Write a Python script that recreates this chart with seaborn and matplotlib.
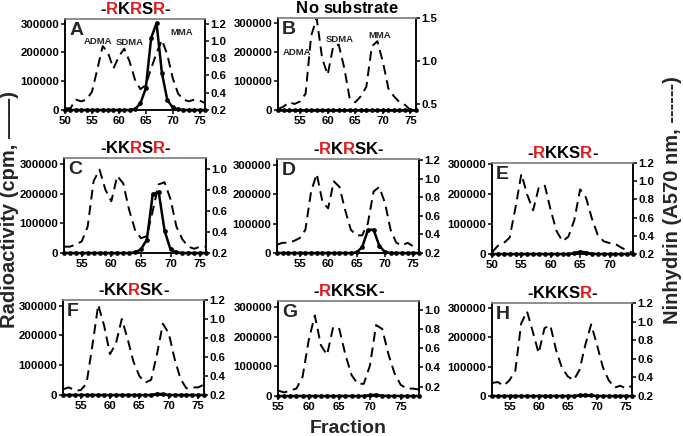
import matplotlib
matplotlib.use("Agg")
import matplotlib.pyplot as plt
import seaborn as sns
from matplotlib.offsetbox import TextArea, HPacker, AnchoredOffsetbox
from matplotlib.ticker import FormatStrFormatter, FixedLocator

sns.set_style("ticks")
plt.rcParams['font.family'] = ['Liberation Sans', 'DejaVu Sans']
plt.rcParams['font.weight'] = 'bold'

# fraction numbers per panel
frac_A = list(range(50, 77))
frac_B = list(range(51, 77))
frac_C = list(range(52, 77))
frac_D = list(range(51, 77))
frac_E = list(range(50, 75))
frac_F = list(range(52, 77))
frac_G = list(range(55, 79))
frac_H = list(range(52, 77))

# radioactivity (cpm), solid line
cpm_A = [0, 0, 0, 0, 0, 0, 0, 0, 0, 0, 0, 0, 0, 3000, 23000, 75000, 250000, 302000,
         128000, 35000, 9000, 2000, 0, 0, 0, 0, 0]
cpm_B = [0, 0, 0, 0, 0, 0, 0, 0, 0, 0, 0, 0, 0, 0, 0, 0, 0, 0, 0, 0, 0, 0, 0, 0, 0, 0]
cpm_C = [0, 0, 0, 0, 0, 0, 0, 0, 0, 0, 0, 0, 2000, 12000, 45000, 198000, 206000, 75000,
         12000, 2000, 0, 0, 0, 0, 0]
cpm_D = [0, 0, 0, 0, 0, 0, 0, 0, 0, 0, 0, 0, 0, 0, 2000, 20000, 78000, 80000, 25000,
         3000, 0, 0, 0, 0, 0, 0]
cpm_E = [0, 0, 0, 0, 0, 0, 0, 0, 0, 0, 0, 0, 0, 0, 3000, 8000, 5000, 1000, 0, 0, 0, 0,
         0, 0, 0]
cpm_F = [0, 0, 0, 0, 0, 0, 0, 0, 0, 0, 0, 0, 0, 0, 0, 0, 4000, 3000, 0, 0, 0, 0, 0, 0, 0]
cpm_G = [0, 0, 0, 0, 0, 0, 0, 0, 0, 0, 0, 0, 0, 0, 0, 3000, 4000, 1000, 0, 0, 0, 0, 0, 0]
cpm_H = [0, 0, 0, 0, 0, 0, 0, 0, 0, 0, 0, 0, 0, 0, 0, 2000, 4000, 2000, 0, 0, 0, 0, 0, 0, 0]

# ninhydrin (A570), dashed line
nin_A = [0.22, 0.22, 0.32, 0.30, 0.32, 0.41, 0.67, 0.94, 0.86, 0.68, 0.82, 0.91, 0.76, 0.55,
         0.44, 0.49, 0.68, 0.86, 1.01, 0.84, 0.57, 0.39, 0.32, 0.30, 0.32, 0.31, 0.28]
nin_B = [0.44, 0.47, 0.52, 0.50, 0.53, 0.62, 1.29, 1.50, 1.03, 0.84, 1.17, 1.19, 0.92, 0.56,
         0.52, 0.59, 0.70, 1.17, 1.23, 0.99, 0.68, 0.59, 0.52, 0.49, 0.43, 0.41]
nin_C = [0.26, 0.26, 0.28, 0.31, 0.45, 0.88, 0.99, 0.80, 0.69, 0.93, 0.86, 0.61, 0.42, 0.34,
         0.36, 0.60, 0.85, 0.87, 0.71, 0.45, 0.33, 0.26, 0.24, 0.26, 0.26]
nin_D = [0.29, 0.31, 0.31, 0.33, 0.36, 0.45, 0.86, 1.05, 0.75, 0.68, 0.97, 0.91, 0.66, 0.45,
         0.39, 0.39, 0.52, 0.86, 0.91, 0.74, 0.45, 0.31, 0.28, 0.31, 0.27, 0.24]
nin_E = [0.22, 0.29, 0.32, 0.38, 0.71, 1.08, 0.85, 0.68, 0.94, 0.95, 0.68, 0.45, 0.34, 0.39,
         0.57, 0.91, 0.82, 0.59, 0.41, 0.34, 0.32, 0.31, 0.27, 0.24, 0.21]
nin_F = [0.26, 0.28, 0.25, 0.25, 0.32, 0.72, 1.15, 0.93, 0.63, 0.74, 1.00, 0.79, 0.55, 0.40,
         0.33, 0.36, 0.63, 0.95, 0.85, 0.58, 0.37, 0.27, 0.28, 0.28, 0.31]
nin_G = [0.16, 0.14, 0.16, 0.18, 0.30, 0.68, 0.94, 0.63, 0.53, 0.82, 0.80, 0.53, 0.32, 0.23,
         0.23, 0.42, 0.84, 0.80, 0.54, 0.34, 0.22, 0.18, 0.18, 0.17]
nin_H = [0.34, 0.35, 0.31, 0.37, 0.47, 0.98, 1.11, 0.89, 0.66, 0.93, 0.96, 0.69, 0.50, 0.41,
         0.37, 0.48, 0.75, 0.97, 0.75, 0.51, 0.37, 0.29, 0.31, 0.28, 0.31]

titles = ['-RKRSR-', 'No substrate', '-KKRSR-', '-RKRSK-', '-RKKSR-', '-KKRSK-', '-RKKSK-', '-KKKSR-']
letters = ['A', 'B', 'C', 'D', 'E', 'F', 'G', 'H']
cpm_ticks = [0, 100000, 200000, 300000]
peak_names = ['ADMA', 'SDMA', 'MMA']

W, H = 683, 436
fig = plt.figure(figsize=(W / 100, H / 100), dpi=100)

# layout: box in pixels (left, top, right, bottom), axis limits, right-axis ticks
panels = [
    dict(x=frac_A, cpm=cpm_A, nin=nin_A, box=(65, 19, 205, 110), xlim=(50, 76),
         xt=[50, 55, 60, 65, 70, 75], ylim=316000, rlim=(0.2, 1.253),
         rt=[0.2, 0.4, 0.6, 0.8, 1.0, 1.2],
         peaks=[(0.236, 0.75), (0.464, 0.74), (0.836, 0.85)]),
    dict(x=frac_B, cpm=cpm_B, nin=nin_B, box=(278, 18, 416, 110), xlim=(51, 76),
         xt=[55, 60, 65, 70, 75], ylim=317000, rlim=(0.43, 1.5), rt=[0.5, 1.0, 1.5],
         peaks=[(0.136, 0.63), (0.449, 0.77), (0.739, 0.81)]),
    dict(x=frac_C, cpm=cpm_C, nin=nin_C, box=(64, 158, 206, 253), xlim=(52, 76),
         xt=[55, 60, 65, 70, 75], ylim=320000, rlim=(0.2, 1.1),
         rt=[0.2, 0.4, 0.6, 0.8, 1.0]),
    dict(x=frac_D, cpm=cpm_D, nin=nin_D, box=(277, 159, 419, 253), xlim=(51, 76),
         xt=[55, 60, 65, 70, 75], ylim=321000, rlim=(0.2, 1.21),
         rt=[0.2, 0.4, 0.6, 0.8, 1.0, 1.2]),
    dict(x=frac_E, cpm=cpm_E, nin=nin_E, box=(492, 163, 633, 254), xlim=(50, 74),
         xt=[50, 55, 60, 65, 70], ylim=305000, rlim=(0.2, 1.2),
         rt=[0.2, 0.4, 0.6, 0.8, 1.0, 1.2]),
    dict(x=frac_F, cpm=cpm_F, nin=nin_F, box=(63, 300, 204, 395), xlim=(52, 76),
         xt=[55, 60, 65, 70, 75], ylim=319000, rlim=(0.2, 1.2),
         rt=[0.2, 0.4, 0.6, 0.8, 1.0, 1.2]),
    dict(x=frac_G, cpm=cpm_G, nin=nin_G, box=(278, 301, 419, 396), xlim=(55, 78),
         xt=[55, 60, 65, 70, 75], ylim=322000, rlim=(0.103, 1.09),
         rt=[0.2, 0.4, 0.6, 0.8, 1.0]),
    dict(x=frac_H, cpm=cpm_H, nin=nin_H, box=(492, 303, 632, 396), xlim=(52, 76),
         xt=[55, 60, 65, 70, 75], ylim=317000, rlim=(0.2, 1.2),
         rt=[0.2, 0.4, 0.6, 0.8, 1.0, 1.2]),
]

for i, p in enumerate(panels):
    l, t, r, b = p['box']
    ax = fig.add_axes([l / W, 1 - b / H, (r - l) / W, (b - t) / H])
    ax2 = ax.twinx()

    sns.lineplot(x=p['x'], y=p['nin'], ax=ax2, color='black', linewidth=1.4,
                 linestyle=(0, (5, 3)))
    sns.lineplot(x=p['x'], y=p['cpm'], ax=ax, color='black', linewidth=1.8,
                 marker='o', markersize=3.4, markeredgewidth=0, clip_on=False)
    ax.set_zorder(ax2.get_zorder() + 1)
    ax.patch.set_visible(False)

    ax.set_xlim(*p['xlim'])
    ax.set_ylim(0, p['ylim'])
    ax2.set_ylim(*p['rlim'])
    ax.xaxis.set_major_locator(FixedLocator(p['xt']))
    ax.set_yticks(cpm_ticks)
    ax.set_yticklabels([str(v) for v in cpm_ticks])
    ax2.set_yticks(p['rt'])
    ax2.yaxis.set_major_formatter(FormatStrFormatter('%.1f'))
    ax.set_xlabel('')
    ax.set_ylabel('')
    ax2.set_ylabel('')

    for a in (ax, ax2):
        a.tick_params(direction='out', length=3, width=1.1, labelsize=8.2, pad=1,
                      colors='black')
        for s in a.spines.values():
            s.set_linewidth(1.1)
            s.set_color('black')
        a.spines['top'].set_color('#8a8a8a')
        a.spines['top'].set_visible(True)
        a.spines['right'].set_visible(True)

    ax.text(0.03, 0.97, letters[i], transform=ax.transAxes, ha='left', va='top',
            fontsize=14, fontweight='bold')

    # title, uppercase R in red
    boxes = [TextArea(ch, textprops=dict(color='#e31a1c' if ch == 'R' else 'black',
                                         fontsize=12, fontweight='bold'))
             for ch in titles[i]]
    pack = HPacker(children=boxes, align='baseline', pad=0, sep=0)
    anchored = AnchoredOffsetbox(loc='lower center', child=pack, pad=0, borderpad=0.15,
                                 frameon=False, bbox_to_anchor=(0.5, 1.0),
                                 bbox_transform=ax.transAxes)
    ax.add_artist(anchored)

    if 'peaks' in p:
        for name, (px, py) in zip(peak_names, p['peaks']):
            ax.text(px, py, name, transform=ax.transAxes, ha='center', va='center',
                    fontsize=6.8, fontweight='bold')

fig.text(348 / W, 1 - 428 / H, 'Fraction', ha='center', va='center', fontsize=14,
         fontweight='bold')
fig.text(10 / W, 1 - 209 / H, 'Radioactivity (cpm, \u2014\u2014)', rotation=90,
         ha='center', va='center', fontsize=14.5, fontweight='bold')
fig.text(672 / W, 1 - 200 / H, 'Ninhydrin (A570 nm, ------)', rotation=90,
         ha='center', va='center', fontsize=14.5, fontweight='bold')

fig.savefig('out.png', dpi=100)
